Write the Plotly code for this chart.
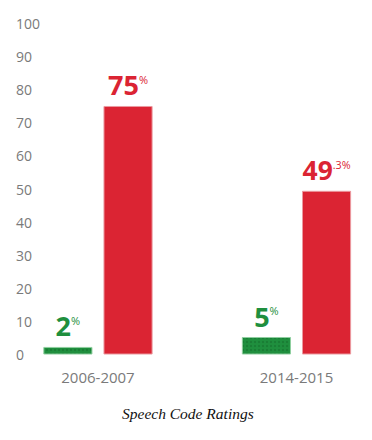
import plotly.graph_objects as go

categories = ["2006-2007", "2014-2015"]
green_values = [2, 5]
red_values = [75, 49.3]
y_ticks = [0, 10, 20, 30, 40, 50, 60, 70, 80, 90, 100]
y_tick_labels = [str(v) for v in y_ticks]
axis_title = "Speech Code Ratings"

GREEN = "#1f8f3e"
RED = "#db2433"


def label(v):
    s = f"{v:g}"
    if "." in s:
        whole, frac = s.split(".")
        sup = "." + frac + "%"
    else:
        whole, sup = s, "%"
    return f"<b>{whole}</b><sup><span style='font-size:11px'>{sup}</span></sup>"


fig = go.Figure()
fig.add_trace(go.Bar(
    x=categories, y=green_values, name="green",
    marker=dict(color=GREEN, line=dict(color="#8fcf9f", width=1),
                pattern=dict(shape=".", fgcolor="#146b2c", bgcolor=GREEN, size=4, solidity=0.3)),
    text=[label(v) for v in green_values], textposition="outside",
    textfont=dict(family="Open Sans", size=27, color=GREEN),
    cliponaxis=False, hoverinfo="skip",
))
fig.add_trace(go.Bar(
    x=categories, y=red_values, name="red",
    marker=dict(color=RED, line=dict(color="#eb9aa0", width=1)),
    text=[label(v) for v in red_values], textposition="outside",
    textfont=dict(family="Open Sans", size=27, color=RED),
    cliponaxis=False, hoverinfo="skip",
))

annotations = []
for v, t in zip(y_ticks, y_tick_labels):
    annotations.append(dict(
        x=0, xref="paper", xanchor="left", xshift=1,
        y=v, yref="y", yanchor="middle", yshift=0,
        text=t, showarrow=False,
        font=dict(family="Open Sans", size=14, color="#7a7a7a"),
    ))
annotations.append(dict(
    x=0.5, xref="paper", xanchor="center",
    y=0, yref="paper", yanchor="middle", yshift=-56,
    text=f"<i>{axis_title}</i>", showarrow=False,
    font=dict(family="Liberation Serif", size=15.5, color="#111"),
))

fig.update_layout(
    width=372, height=440,
    margin=dict(l=13, r=10, t=20, b=83, autoexpand=False),
    paper_bgcolor="white", plot_bgcolor="white",
    barmode="group", bargap=0.394, bargroupgap=0.2,
    showlegend=False,
    font=dict(family="Open Sans", color="#808080"),
    xaxis=dict(
        range=[-0.428, 1.330], showgrid=False, zeroline=False, showline=False,
        ticks="", ticklabelstandoff=10,
        tickfont=dict(size=15, color="#7a7a7a"), automargin=False,
    ),
    yaxis=dict(
        range=[-0.9, 101.2], showgrid=False, zeroline=False, showline=False,
        showticklabels=False, ticks="", automargin=False,
    ),
    annotations=annotations,
)

fig.write_html("out.html", config={"displayModeBar": False},
               post_script="document.body.style.margin='0px';")
